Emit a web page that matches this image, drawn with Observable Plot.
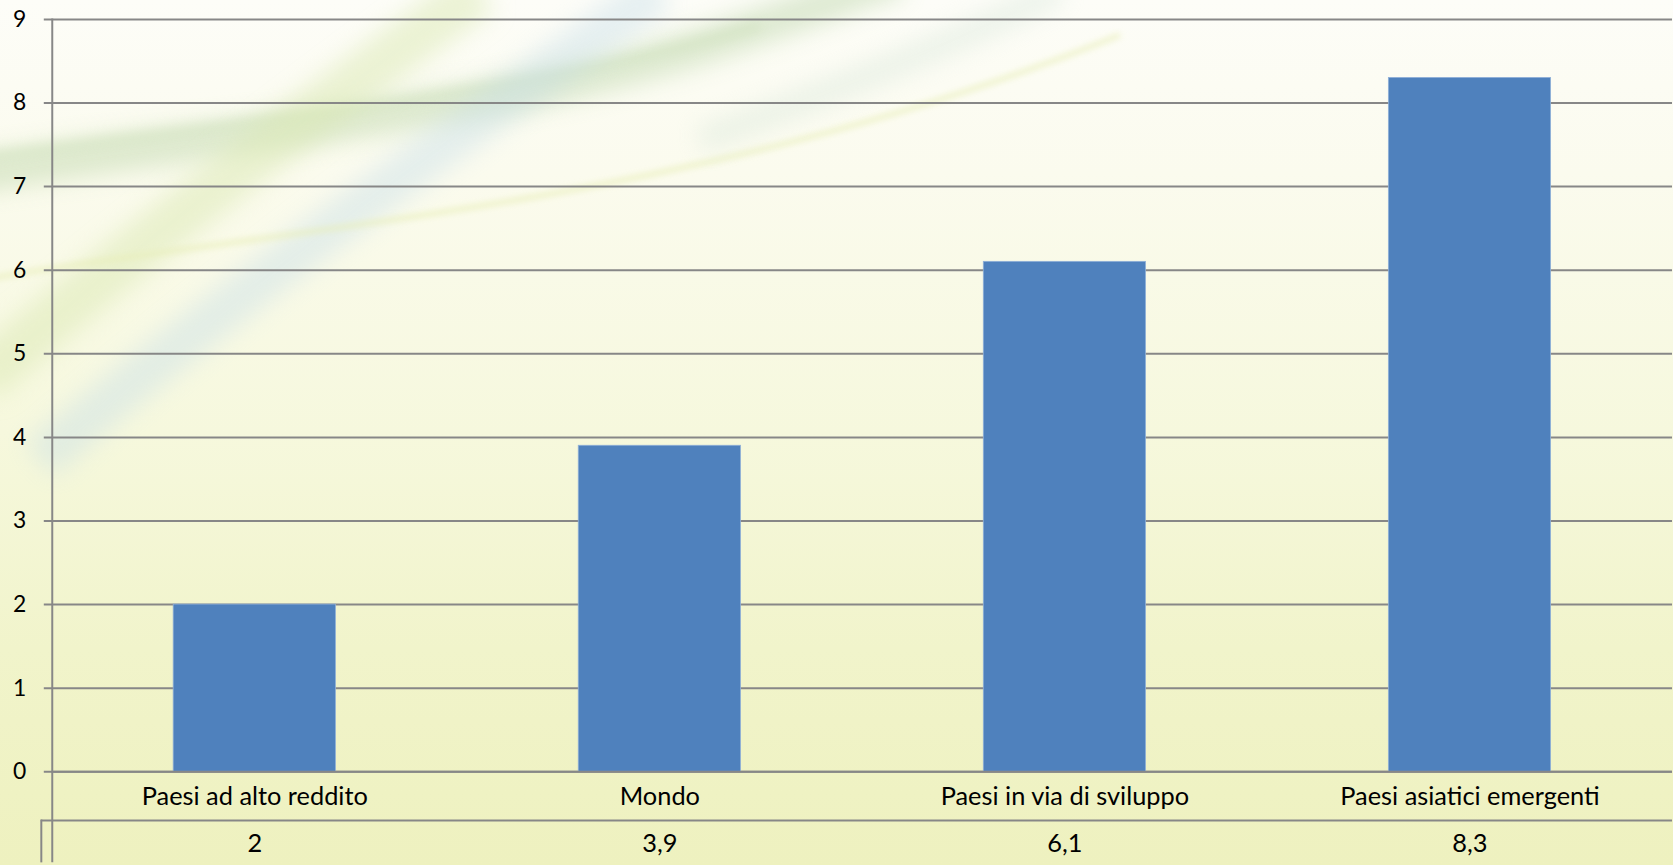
<!DOCTYPE html>
<html>
<head>
<meta charset="utf-8">
<script src="https://cdn.jsdelivr.net/npm/d3@7"></script>
<script src="https://cdn.jsdelivr.net/npm/@observablehq/plot@0.6"></script>
<style>
  html, body { margin: 0; padding: 0; width: 1673px; height: 865px; overflow: hidden; }
  body {
    position: relative;
    background: linear-gradient(to bottom, #fdfdf8 0%, #fbfbee 20%, #f6f8dd 50%, #f1f4cb 75%, #eef1bf 100%);
  }
  #deco { position: absolute; left: 0; top: 0; }
  #chart { position: absolute; left: 0; top: 0; }
  #chart svg { background: transparent; overflow: visible; }
</style>
</head>
<body>
<svg id="deco" width="1673" height="865" xmlns="http://www.w3.org/2000/svg">
  <defs>
    <filter id="blur12" x="-30%" y="-30%" width="160%" height="160%"><feGaussianBlur stdDeviation="12"/></filter>
    <filter id="blur6" x="-30%" y="-30%" width="160%" height="160%"><feGaussianBlur stdDeviation="6"/></filter>
    <filter id="blur3" x="-30%" y="-30%" width="160%" height="160%"><feGaussianBlur stdDeviation="3"/></filter>
  </defs>
  <path d="M -30 175 C 250 130, 500 115, 720 40 S 850 -10, 900 -20" stroke="#b6d1a2" stroke-width="36" fill="none" opacity="0.45" filter="url(#blur12)"/>
  <path d="M -20 158 C 300 115, 520 95, 760 25" stroke="#c5dbb0" stroke-width="10" fill="none" opacity="0.4" filter="url(#blur6)"/>
  <path d="M 40 460 C 200 320, 420 160, 660 -10" stroke="#c3dce8" stroke-width="44" fill="none" opacity="0.4" filter="url(#blur12)"/>
  <path d="M -20 380 C 120 260, 300 120, 480 -10" stroke="#dae8b2" stroke-width="50" fill="none" opacity="0.5" filter="url(#blur12)"/>
  <path d="M -20 280 C 300 225, 700 205, 1120 35" stroke="#e8eeb8" stroke-width="5" fill="none" opacity="0.7" filter="url(#blur3)"/>
  <path d="M 700 140 C 850 85, 960 40, 1060 -10" stroke="#d2e3d6" stroke-width="26" fill="none" opacity="0.4" filter="url(#blur12)"/>
</svg>
<div id="chart"></div>
<script>
const categories = ["Paesi ad alto reddito", "Mondo", "Paesi in via di sviluppo", "Paesi asiatici emergenti"];
const values = [2, 3.9, 6.1, 8.3];
const valueLabels = ["2", "3,9", "6,1", "8,3"];
const yTicks = [0, 1, 2, 3, 4, 5, 6, 7, 8, 9];

const data = categories.map((c, i) => ({category: c, value: values[i], label: valueLabels[i]}));

const lineColor = "#878787";
const font = "Lato, 'Open Sans', sans-serif";

const chart = Plot.plot({
  width: 1681,
  height: 865,
  marginTop: 19,
  marginBottom: 90,
  marginLeft: 52,
  marginRight: 1,
  style: {background: "transparent", fontFamily: font, color: "#000"},
  x: {domain: categories, paddingInner: 0.6, paddingOuter: 0.3, axis: null},
  y: {domain: [0, 9], ticks: yTicks, label: null, axis: null},
  marks: [
    Plot.ruleY(yTicks, {stroke: lineColor, strokeWidth: 2, insetLeft: -8}),
    Plot.barY(data, {x: "category", y: "value", fill: "#4F81BD", stroke: "#8fb0d8", strokeWidth: 0.8}),
    Plot.frame({anchor: "left", stroke: lineColor, strokeWidth: 2, insetBottom: -90}),
    Plot.frame({anchor: "left", stroke: lineColor, strokeWidth: 2, insetLeft: -11, insetTop: 805, insetBottom: -90}),
    Plot.ruleY([0], {stroke: lineColor, strokeWidth: 2, dy: 49, insetLeft: -11}),
    Plot.ruleY([0], {stroke: lineColor, strokeWidth: 2}),
    Plot.axisY({ticks: yTicks, tickSize: 0, tickPadding: 26, fontSize: 23, fill: "#000", tickFormat: d => String(d)}),
    Plot.text(data, {x: "category", text: "category", frameAnchor: "bottom", dy: 25, lineAnchor: "middle", fontSize: 25.5, fill: "#000"}),
    Plot.text(data, {x: "category", text: "label", frameAnchor: "bottom", dy: 72, lineAnchor: "middle", fontSize: 25.5, fill: "#000"})
  ]
});
document.getElementById("chart").appendChild(chart);
</script>
</body>
</html>
